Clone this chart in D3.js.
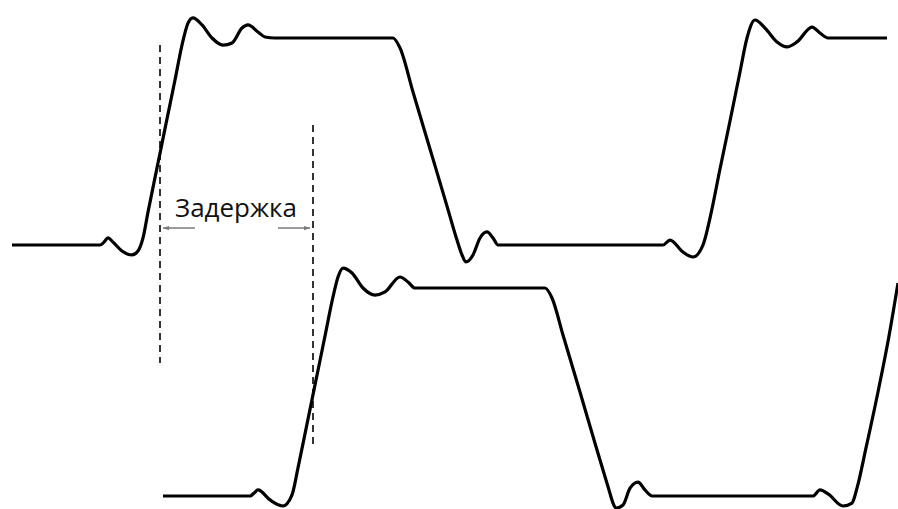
<!DOCTYPE html>
<html><head><meta charset="utf-8">
<script src="https://cdn.jsdelivr.net/npm/d3@7"></script>
<style>html,body{margin:0;padding:0;background:#fff;}svg{display:block;}</style>
</head><body><svg id="c" width="898" height="509"></svg>
<script>
// time (arbitrary units) and normalized level of the input signal (top trace)
const inputTime = [1.2,10.0,10.4,10.8,11.3,12.2,13.2,13.8,14.3,14.8,15.8,16.7,17.5,18.2,18.8,19.3,20.2,21.2,22.3,23.2,24.2,24.8,25.8,26.5,27.5,
  39.3,40.0,41.3,43.0,44.7,45.7,46.2,46.6,47.3,48.0,48.7,49.3,49.8,
  66.3,67.0,68.3,69.3,70.3,71.0,72.0,73.0,74.0,74.7,75.5,76.5,77.7,78.7,79.7,81.2,82.0,82.8,88.7];
const inputLevel = [0,0,0.014,0.034,0.014,-0.029,-0.048,-0.029,0.034,0.159,0.396,0.609,0.797,0.966,1.072,1.097,1.063,1.0,0.966,0.976,1.048,1.063,1.029,1.005,1.0,
  1.0,0.952,0.739,0.464,0.188,0.024,-0.048,-0.082,-0.048,0.034,0.063,0.034,0,
  0,0.024,-0.034,-0.058,0,0.130,0.367,0.599,0.836,1.0,1.087,1.048,0.981,0.957,0.981,1.053,1.024,1.0,1.0];
// output signal (bottom trace)
const outputTime = [16.3,25.0,25.4,25.8,27.0,28.3,29.2,29.8,30.7,31.5,32.5,33.3,33.8,34.3,35.2,36.3,37.5,38.5,40.0,40.8,41.5,42.5,
  54.5,55.2,56.3,58.0,59.7,60.9,61.3,61.6,62.3,63.0,63.8,64.5,65.0,65.2,
  81.3,82.0,82.8,84.3,85.2,85.7,86.6,87.8,88.9,89.8];
const outputLevel = [0,0,0.014,0.029,-0.019,-0.048,0.005,0.135,0.346,0.534,0.769,0.957,1.053,1.096,1.072,1.0,0.966,0.981,1.053,1.029,1.0,1.0,
  1.0,0.952,0.774,0.5,0.221,0.029,-0.034,-0.058,-0.043,0.038,0.067,0.029,0.005,0,
  0,0.029,0.010,-0.048,-0.034,0.038,0.231,0.5,0.769,1.024];
// delay markers
const markerTime = [16.0, 31.3];
const markerTopLevel = [0.966, 0.58];
const markerBottomLevel = [-0.57, -0.966];
const arrowLevel = 0.082;
const arrowFrom = [19.5, 27.8];
const arrowTo = [16.3, 31.0];
const label = "Задержка";
const labelTime = 23.6;
const labelLevel = 0.135;

const svg = d3.select("#c");
const x = d3.scaleLinear().domain([0, 89.8]).range([0, 898]);
const yTop = d3.scaleLinear().domain([0, 1]).range([245, 38]);
const yBot = d3.scaleLinear().domain([0, 1]).range([496, 288]);

svg.append("defs").append("marker").attr("id","ah").attr("viewBox","0 0 10 10")
  .attr("refX",10).attr("refY",5).attr("markerWidth",6).attr("markerHeight",6)
  .attr("markerUnits","userSpaceOnUse").attr("orient","auto")
  .append("path").attr("d","M0,1.5L10,5L0,8.5z").attr("fill","#7a7a7a");

// dashed markers
markerTime.forEach((t,i)=>{
  svg.append("line").attr("x1",x(t)).attr("x2",x(t))
    .attr("y1",yTop(markerTopLevel[i])).attr("y2",yTop(markerBottomLevel[i]))
    .attr("stroke","#333").attr("stroke-width",2).attr("stroke-dasharray","7,5");
});

// arrows
arrowFrom.forEach((t,i)=>{
  svg.append("line").attr("x1",x(t)).attr("x2",x(arrowTo[i]))
    .attr("y1",yTop(arrowLevel)).attr("y2",yTop(arrowLevel))
    .attr("stroke","#7a7a7a").attr("stroke-width",1.5).attr("marker-end","url(#ah)");
});

const txt = svg.append("text").attr("x",x(labelTime)).attr("y",yTop(labelLevel))
  .attr("text-anchor","middle").attr("font-family","'Open Sans', sans-serif")
  .attr("font-size",25).attr("fill","#111").text(label);
const w = txt.node().getComputedTextLength();
txt.attr("font-size", 25*122/w);

const lineTop = d3.line().x(d=>x(d[0])).y(d=>yTop(d[1])).curve(d3.curveMonotoneX);
const lineBot = d3.line().x(d=>x(d[0])).y(d=>yBot(d[1])).curve(d3.curveMonotoneX);

svg.append("path").datum(d3.zip(inputTime, inputLevel)).attr("d", lineTop)
  .attr("fill","none").attr("stroke","#000").attr("stroke-width",3.2).attr("stroke-linejoin","round");
svg.append("path").datum(d3.zip(outputTime, outputLevel)).attr("d", lineBot)
  .attr("fill","none").attr("stroke","#000").attr("stroke-width",3.2).attr("stroke-linejoin","round");
</script></body></html>
